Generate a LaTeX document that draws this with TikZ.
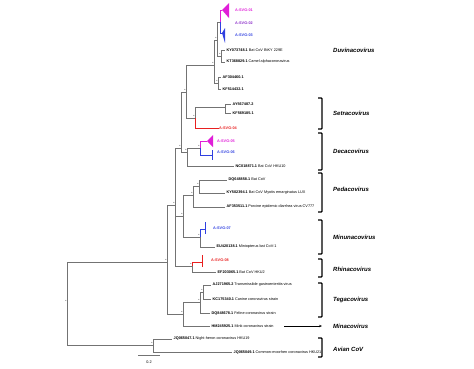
\documentclass[tikz,border=0pt]{standalone}
\usepackage{fontspec}
\setmainfont{Liberation Sans}
\usetikzlibrary{arrows.meta}

\definecolor{svgmag}{HTML}{E01FD8}
\definecolor{svgpur}{HTML}{8A2BC8}
\definecolor{svgblu}{HTML}{3040E0}
\definecolor{svgred}{HTML}{E82020}

\tikzset{
  br/.style={draw=black!55, line width=0.75pt},
  tip/.style={anchor=west, inner xsep=1.5pt, inner ysep=0pt, font=\fontsize{3.8}{4}\selectfont},
  svgtip/.style={anchor=west, inner sep=0pt, font=\fontsize{3.8}{4}\selectfont\bfseries},
  genus/.style={anchor=west, inner sep=0pt, font=\fontsize{6}{7}\selectfont\bfseries\itshape},
  boot/.style={inner sep=0.3pt, anchor=south east, font=\fontsize{3}{3}\selectfont},
  clade/.style={draw=black, line width=1.2pt, rounded corners=0.8pt},
}

\begin{document}
\begin{tikzpicture}[x=1pt,y=-1pt]
\useasboundingbox (0,0) rectangle (474,368);

% inner nodes of the tree
\coordinate (R) at (67,303);
\coordinate (A) at (153,345);
\coordinate (I0) at (167,262);
\coordinate (TM) at (183,314);
\coordinate (T) at (200,302);
\coordinate (T1) at (203,292);
\coordinate (U) at (175,205);
\coordinate (Rh) at (192,266);
\coordinate (PM) at (183,216);
\coordinate (Pd) at (193,195);
\coordinate (P1) at (199,186);
\coordinate (Mn) at (200,237);
\coordinate (U1) at (181,148);
\coordinate (Dc) at (187,152);
\coordinate (DC2) at (200,148);
\coordinate (S1) at (186,92);
\coordinate (St) at (195,118);
\coordinate (AK) at (225,107);
\coordinate (DA) at (214,65);
\coordinate (AFKF) at (218,83);
\coordinate (Du) at (217,40);
\coordinate (KYKT) at (221,56);
\coordinate (Du1) at (220,22);

% tips
\node[tip] (ky) at (225,50) {\textbf{KY073748.1} Bat CoV BtKY 229E};
\node[tip] (kt) at (225,62) {\textbf{KT368829.1} Camel alphacoronavirus};
\node[tip] (af3) at (221,77) {\textbf{AF304460.1}};
\node[tip] (kf5) at (221,89) {\textbf{KF514432.1}};
\node[tip] (ay) at (231,104) {\textbf{AY567487.2}};
\node[tip] (kf569) at (231,113) {\textbf{KF569185.1}};
\node[tip] (nc) at (234,166) {\textbf{NC018871.1} Bat CoV HKU10};
\node[tip] (dq6) at (227,180) {\textbf{DQ648858.1} Bat CoV};
\node[tip] (ky5) at (225,193) {\textbf{KY502394.1} Bat CoV Myotis emarginatus LUX};
\node[tip] (af35) at (225,207) {\textbf{AF353511.1} Porcine epidemic diarrhea virus CV777};
\node[tip] (eu) at (215,247) {\textbf{EU420138.1} Miniopterus bat CoV-1};
\node[tip] (ef) at (216,272) {\textbf{EF203065.1} Bat CoV HKU2};
\node[tip] (aj) at (211,285) {\textbf{AJ271965.2} Transmissible gastroenteritis virus};
\node[tip] (kc) at (211,299) {\textbf{KC175340.1} Canine coronavirus strain};
\node[tip] (dq8) at (210,313) {\textbf{DQ848678.1} Feline coronavirus strain};
\node[tip] (hm) at (210,326) {\textbf{HM245925.1} Mink coronavirus strain};
\node[tip] (jq47) at (172,339) {\textbf{JQ065047.1} Night-heron coronavirus HKU19};
\node[tip] (jq49) at (232,352) {\textbf{JQ065049.1} Common-moorhen coronavirus HKU21};

% study sequences
\node[svgtip, svgmag] (s01) at (235,10) {A-SVG-01};
\node[svgtip, svgpur] (s02) at (235,23) {A-SVG-02};
\node[svgtip, svgblu] (s03) at (235,35) {A-SVG-03};
\node[svgtip, svgred] (s04) at (219,128) {A-SVG-04};
\node[svgtip, svgmag] (s05) at (217,141) {A-SVG-05};
\node[svgtip, svgblu] (s06) at (217,152) {A-SVG-06};
\node[svgtip, svgblu] (s07) at (213,228) {A-SVG-07};
\node[svgtip, svgred] (s08) at (211,260) {A-SVG-08};

% branches
\foreach \p/\c in {R/I0,R/A,A/jq47.west,A/jq49.west,I0/U,I0/TM,TM/T,TM/hm.west,
    T/T1,T/dq8.west,T1/aj.west,T1/kc.west,U/U1,U/PM,U/Rh,Rh/ef.west,PM/Pd,PM/Mn,
    Pd/P1,Pd/af35.west,P1/dq6.west,P1/ky5.west,Mn/eu.west,U1/S1,U1/Dc,Dc/DC2,
    Dc/nc.west,S1/DA,S1/St,St/AK,AK/ay.west,AK/kf569.west,DA/Du,DA/AFKF,
    AFKF/af3.west,AFKF/kf5.west,Du/Du1,Du/KYKT,KYKT/ky.west,KYKT/kt.west}
  \draw[br] (\p) |- (\c);

% coloured branches of the study sequences
\draw[svgmag, line width=0.6pt] (Du1) |- (222,10);
\fill[svgmag] (222,10) -- (229,3) -- (229,18) -- cycle;
\draw[svgpur!60, line width=0.6pt] (Du1) -- (221,23);
\draw[svgblu, line width=0.6pt] (Du1) |- (222,33);
\fill[svgblu] (222,33) -- (225,28) -- (225,43) -- cycle;
\draw[svgred, line width=0.6pt] (St) |- (s04.west);
\draw[svgmag, line width=0.6pt] (DC2) |- (207,141);
\fill[svgmag] (207,141) -- (213,135) -- (213,147) -- cycle;
\draw[svgblu, line width=0.6pt] (DC2) |- (212,155);
\draw[svgblu, line width=0.7pt] (212,150) -- (212,160);
\draw[svgblu, line width=0.6pt] (Mn) |- (205,229);
\draw[svgblu, line width=0.7pt] (205,222) -- (205,234);
\draw[svgred, line width=0.6pt] (Rh) |- (202,262);
\draw[svgred, line width=0.7pt] (202,255) -- (202,267);

% support marks
\foreach \n in {R,A,I0,TM,T,T1,U,Rh,PM,Pd,P1,Mn,U1,Dc,DC2,S1,St,DA,AFKF,Du,KYKT}
  \node[boot] (b\n) at (\n) {*};

% scale bar
\draw[br] (138,355) -- (160,355);
\node[inner sep=0pt, font=\fontsize{3.8}{4}\selectfont] (scl) at (149,362) {0.2};

% genera
\node[genus] (duv) at (333,50) {Duvinacovirus};
\node[genus] (set) at (333,113) {Setracovirus};
\node[genus] (dec) at (333,151) {Decacovirus};
\node[genus] (ped) at (333,189) {Pedacovirus};
\node[genus] (min) at (333,237) {Minunacovirus};
\node[genus] (rhi) at (333,269) {Rhinacovirus};
\node[genus] (teg) at (333,300) {Tegacovirus};
\node[genus] (mna) at (333,326) {Minacovirus};
\node[genus] (avi) at (333,349) {Avian CoV};

\draw[clade] (318,98) -- (322,98) -- (322,129) -- (318,129);
\draw[clade] (318,133) -- (322,133) -- (322,170) -- (318,170);
\draw[clade] (318,173) -- (322,173) -- (322,212) -- (318,212);
\draw[clade] (318,220) -- (322,220) -- (322,254) -- (318,254);
\draw[clade] (318,259) -- (322,259) -- (322,277) -- (318,277);
\draw[clade] (318,283) -- (322,283) -- (322,317) -- (318,317);
\draw[clade] (318,338) -- (322,338) -- (322,357) -- (318,357);
\draw[-{Stealth[length=3pt,width=2.4pt]}, line width=0.5pt] ([xshift=9pt]hm.east) -- ([xshift=-11pt]mna.west);
\end{tikzpicture}
\end{document}
